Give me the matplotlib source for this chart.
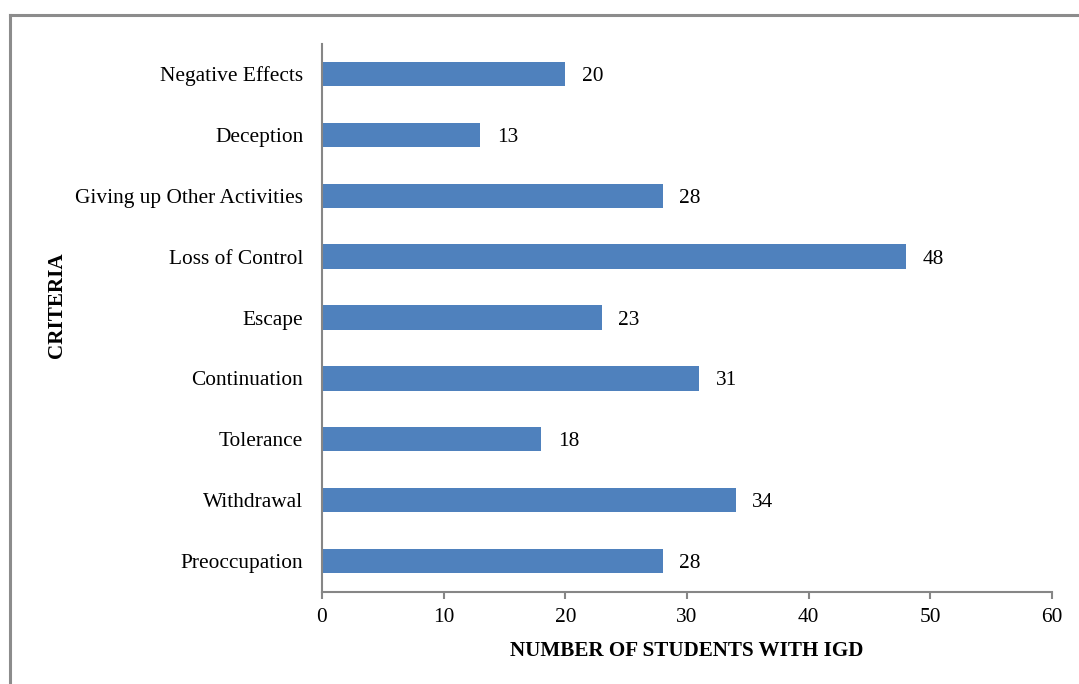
import matplotlib
matplotlib.use("Agg")
import matplotlib.pyplot as plt
from matplotlib.lines import Line2D

categories = ["Preoccupation", "Withdrawal", "Tolerance", "Continuation", "Escape",
              "Loss of Control", "Giving up Other Activities", "Deception", "Negative Effects"]
values = [28, 34, 18, 31, 23, 48, 28, 13, 20]
x_ticks = [0, 10, 20, 30, 40, 50, 60]

plt.rcParams["font.family"] = ["Liberation Serif", "DejaVu Serif"]

fig = plt.figure(figsize=(10.79, 6.84), dpi=100)
ax = fig.add_axes([0.2984, 0.1352, 0.6766, 0.8012])

bar_color = "#4F81BD"
axis_color = "#868686"
fs = 15.4

pos = list(range(len(categories)))
ax.barh(pos, values, height=0.4, color=bar_color)
for p, v in zip(pos, values):
    ax.annotate(str(v), (v, p), xytext=(12, 0), textcoords="offset points",
                va="center_baseline", ha="left", fontsize=fs)

ax.set_xlim(0, 60)
ax.set_ylim(-0.5, len(categories) - 0.5)
ax.set_xticks(x_ticks)
ax.set_xticklabels([str(t) for t in x_ticks], fontsize=fs)
ax.set_yticks(pos)
ax.set_yticklabels(categories, fontsize=fs)
for lbl in ax.get_yticklabels():
    lbl.set_verticalalignment("center_baseline")

for s in ["top", "right"]:
    ax.spines[s].set_visible(False)
for s in ["left", "bottom"]:
    ax.spines[s].set_color(axis_color)
    ax.spines[s].set_linewidth(1.5)

ax.tick_params(axis="x", direction="out", length=5, width=1.5, color=axis_color, pad=7)
ax.tick_params(axis="y", length=0, pad=13.5)

ax.set_xlabel("NUMBER OF STUDENTS WITH IGD", fontsize=15.2, fontweight="bold", labelpad=10)
fig.text(0.053, 0.554, "CRITERIA", rotation=90, fontsize=15.2, fontweight="bold",
         ha="center", va="center")

# outer frame (top and left edges)
frame_kw = dict(color="#8C8C8C", linewidth=2.2, transform=fig.transFigure)
fig.add_artist(Line2D([0.0095, 1.0], [0.978, 0.978], **frame_kw))
fig.add_artist(Line2D([0.0095, 0.0095], [0.0, 0.978], **frame_kw))

fig.savefig("out.png", dpi=100)
